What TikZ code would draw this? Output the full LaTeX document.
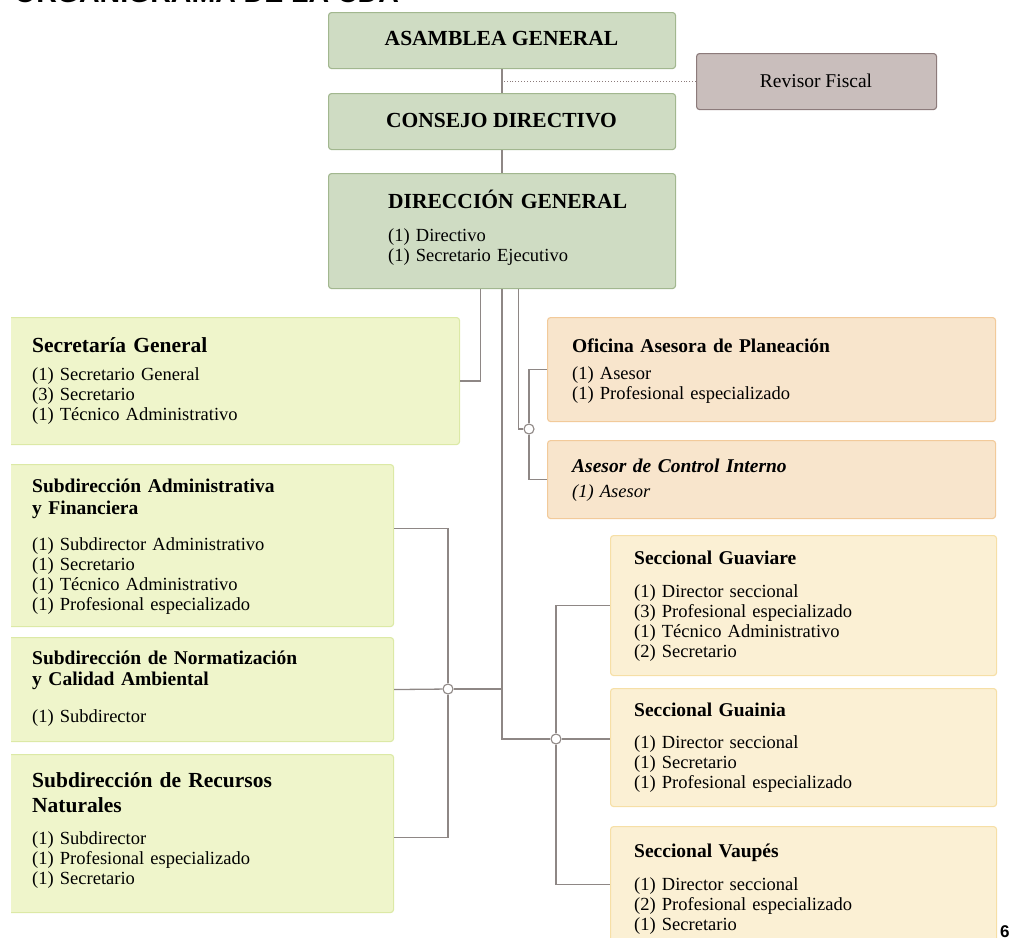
\documentclass[tikz,border=0pt]{standalone}
\usepackage{fontspec}
\setmainfont{Liberation Serif}
\newfontfamily\sansfam{Liberation Sans}
\newcommand{\myfs}[2]{\fontsize{#1}{#2}\selectfont}
\definecolor{gfill}{HTML}{CFDCC3}
\definecolor{gdraw}{HTML}{A2B78F}
\definecolor{lfill}{HTML}{EFF5CB}
\definecolor{ldraw}{HTML}{DCE9A6}
\definecolor{ofill}{HTML}{F8E5CC}
\definecolor{odraw}{HTML}{F2CA9A}
\definecolor{sfill}{HTML}{FBF0D4}
\definecolor{sdraw}{HTML}{F6DFA6}
\definecolor{rfill}{HTML}{C9BEBC}
\definecolor{rdraw}{HTML}{8C7B7B}
\definecolor{lncol}{HTML}{8E8785}
\begin{document}
\begin{tikzpicture}[x=1pt,y=-1pt,
  box/.style={draw, rounded corners=3pt, line width=1.1pt, inner sep=0pt, anchor=north west},
  gbox/.style={box, fill=gfill, draw=gdraw},
  lbox/.style={box, fill=lfill, draw=ldraw},
  obox/.style={box, fill=ofill, draw=odraw},
  sbox/.style={box, fill=sfill, draw=sdraw},
  rbox/.style={box, fill=rfill, draw=rdraw},
  ln/.style={draw=lncol, line width=1.3pt},
  dotln/.style={draw=rdraw, line width=0.9pt, dotted},
  jn/.style={circle, draw=lncol, fill=white, line width=1.1pt, inner sep=0pt, minimum size=10pt},
  tx/.style={anchor=base west, inner sep=0pt, align=left, text width=420pt},
  ctx/.style={anchor=base, inner sep=0pt},
  bighead/.style={font=\bfseries\myfs{21.5}{24}},
  head/.style={font=\bfseries\myfs{19.5}{21}},
  body/.style={font=\myfs{18.5}{20.3}}
]
\useasboundingbox (0,0) rectangle (1011,937);

% title (cut off at the top of the page)
\node[anchor=base west, inner sep=0pt, font=\sansfam\bfseries\myfs{28.5}{30}] (title) at (14,2.5) {ORGANIGRAMA DE LA CDA};

% top boxes
\node[gbox, minimum width=347pt, minimum height=56pt] (asam) at (328,12) {};
\node[gbox, minimum width=347pt, minimum height=56pt] (cons) at (328,93) {};
\node[gbox, minimum width=347pt, minimum height=115pt] (dir) at (328,173) {};
\node[rbox, minimum width=240pt, minimum height=56pt] (rev) at (696,53) {};

% right boxes
\node[obox, minimum width=448pt, minimum height=104pt] (ofi) at (547,317) {};
\node[obox, minimum width=448pt, minimum height=78pt] (ase) at (547,440) {};
\node[sbox, minimum width=386pt, minimum height=140pt] (gua) at (610,535) {};
\node[sbox, minimum width=386pt, minimum height=118pt] (gn) at (610,688) {};
\node[sbox, minimum width=386pt, minimum height=116pt] (vau) at (610,826) {};

% left boxes (cut off at the left)
\begin{scope}
\clip (11,0) rectangle (1011,937);
\node[lbox, minimum width=489pt, minimum height=127pt] (sec) at (-30,317) {};
\node[lbox, minimum width=423pt, minimum height=162pt] (adm) at (-30,464) {};
\node[lbox, minimum width=423pt, minimum height=104pt] (nor) at (-30,637) {};
\node[lbox, minimum width=423pt, minimum height=158pt] (rec) at (-30,754) {};
\end{scope}

% connectors
\draw[dotln] (rev.west) -- (rev.west -| asam.south);
\draw[ln] (asam.south) -- (cons.north);
\draw[ln] (cons.south) -- (dir.north);
\draw[ln] ([xshift=-21.5pt]dir.south) |- (sec.east);

\node[jn] (j0) at (529,429) {};
\node[jn] (j1) at (448,689) {};
\node[jn] (j2) at (556,739) {};

\draw[ln] ([xshift=16.5pt]dir.south) |- (j0);
\draw[ln] (j0) |- (ofi.west);
\draw[ln] (j0) |- (ase.west);

\draw[ln] (dir.south) |- (j2);
\draw[ln] (dir.south |- j1) -- (j1);
\draw[ln] (j1) -- (nor.east);
\draw[ln] (j1) |- ([yshift=17pt]adm.east);
\draw[ln] (j1) |- ([yshift=-4pt]rec.east);

\draw[ln] (j2) -- (j2 -| gn.west);
\draw[ln] (j2) |- (gua.west);
\draw[ln] (j2) |- (vau.west);

% texts
\node[ctx, bighead] (asamT) at (501.5,45) {ASAMBLEA GENERAL};
\node[ctx, bighead] (consT) at (501.5,127) {CONSEJO DIRECTIVO};
\node[ctx, font=\myfs{19.5}{21}] (revT) at (816,87) {Revisor Fiscal};

\node[tx, bighead] (dirH) at (388,208) {DIRECCIÓN GENERAL};
\node[tx, body] (dirB) at (388,241) {(1) Directivo\\(1) Secretario Ejecutivo};

\node[tx, bighead] (secH) at (32,352) {Secretaría General};
\node[tx, body] (secB) at (32,380) {(1) Secretario General\\(3) Secretario\\(1) Técnico Administrativo};

\node[tx, head] (ofiH) at (572,352) {Oficina Asesora de Planeación};
\node[tx, body] (ofiB) at (572,379) {(1) Asesor\\(1) Profesional especializado};

\node[tx, head, font=\bfseries\itshape\myfs{19.5}{21}] (aseH) at (572,472) {Asesor de Control Interno};
\node[tx, body, font=\itshape\myfs{18.5}{20.3}] (aseB) at (572,497) {(1) Asesor};

\node[tx, font=\bfseries\myfs{19.5}{22}] (admH) at (32,492) {Subdirección Administrativa\\y Financiera};
\node[tx, body] (admB) at (32,550) {(1) Subdirector Administrativo\\(1) Secretario\\(1) Técnico Administrativo\\(1) Profesional especializado};

\node[tx, font=\bfseries\myfs{19.5}{21}] (norH) at (32,664) {Subdirección de Normatización\\y Calidad Ambiental};
\node[tx, body] (norB) at (32,722) {(1) Subdirector};

\node[tx, font=\bfseries\myfs{21.5}{25}] (recH) at (32,787) {Subdirección de Recursos\\Naturales};
\node[tx, body] (recB) at (32,844) {(1) Subdirector\\(1) Profesional especializado\\(1) Secretario};

\node[tx, head] (guaH) at (634,564) {Seccional Guaviare};
\node[tx, body] (guaB) at (634,597) {(1) Director seccional\\(3) Profesional especializado\\(1) Técnico Administrativo\\(2) Secretario};

\node[tx, head] (gnH) at (634,716) {Seccional Guainia};
\node[tx, body] (gnB) at (634,748) {(1) Director seccional\\(1) Secretario\\(1) Profesional especializado};

\node[tx, head] (vauH) at (634,857) {Seccional Vaupés};
\node[tx, body] (vauB) at (634,890) {(1) Director seccional\\(2) Profesional especializado\\(1) Secretario};

\node[anchor=base west, inner sep=0pt, font=\sansfam\bfseries\myfs{17}{18}] (pg) at (1000,937.5) {6};
\end{tikzpicture}
\end{document}
